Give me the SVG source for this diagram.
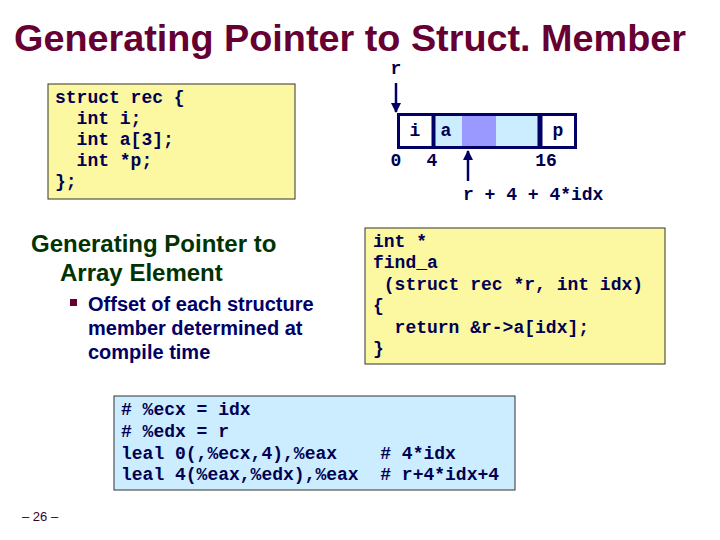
<svg xmlns="http://www.w3.org/2000/svg" width="720" height="540" viewBox="0 0 720 540">
<style>
.title{font-family:"Liberation Sans",Arial,sans-serif;font-weight:bold;font-size:36px;fill:#660033}
.sub{font-family:"Liberation Sans",Arial,sans-serif;font-weight:bold;font-size:24px;fill:#003300}
.bul{font-family:"Liberation Sans",Arial,sans-serif;font-weight:bold;font-size:20px;fill:#000066}
.code{font-family:"Liberation Mono","Courier New",monospace;font-weight:bold;font-size:18px;fill:#000050;white-space:pre}
.box{stroke:#333333;stroke-width:1}
.mem{stroke:#000066;fill:none}
.pg{font-family:"Liberation Sans",Arial,sans-serif;font-size:13px;fill:#330033}
</style>
<defs>
<marker id="ah" viewBox="0 0 10 10" refX="9" refY="5" markerWidth="4" markerHeight="4" orient="auto" markerUnits="strokeWidth">
<path d="M0,0 L10,5 L0,10 z" fill="#000066"/>
</marker>
</defs>
<rect width="720" height="540" fill="#ffffff"/>
<text class="title" x="14" y="51" textLength="672" lengthAdjust="spacingAndGlyphs">Generating Pointer to Struct. Member</text>

<g id="struct-box">
<rect class="box" x="48" y="84" width="247" height="115" fill="#FCF8A2"/>
<text class="code" x="55" y="103">struct rec {</text>
<text class="code" x="55" y="124">  int i;</text>
<text class="code" x="55" y="145">  int a[3];</text>
<text class="code" x="55" y="166">  int *p;</text>
<text class="code" x="55" y="187">};</text>
</g>

<g id="memory">
<rect x="398.5" y="114.5" width="177" height="33" fill="#ffffff"/>
<rect x="433.5" y="114.5" width="106.5" height="33" fill="#CCECFF"/>
<rect x="462" y="114.5" width="34" height="33" fill="#9999FF"/>
<rect class="mem" x="398.5" y="114.5" width="177" height="33" stroke-width="3"/>
<line class="mem" x1="433.5" y1="114" x2="433.5" y2="148" stroke-width="4"/>
<line class="mem" x1="540" y1="114" x2="540" y2="148" stroke-width="5"/>
<text class="code" x="415" y="136" text-anchor="middle">i</text>
<text class="code" x="446" y="136" text-anchor="middle">a</text>
<text class="code" x="558" y="136" text-anchor="middle">p</text>
<text class="code" x="396" y="166" text-anchor="middle">0</text>
<text class="code" x="432" y="166" text-anchor="middle">4</text>
<text class="code" x="546" y="166" text-anchor="middle">16</text>
<text class="code" x="396" y="74" text-anchor="middle">r</text>
<text class="code" x="463" y="200">r + 4 + 4*idx</text>
</g>

<g id="connectors">
<line x1="396" y1="83" x2="396" y2="112" stroke="#000066" stroke-width="2.5" marker-end="url(#ah)"/>
<line x1="468" y1="181" x2="468" y2="151" stroke="#000066" stroke-width="2.5" marker-end="url(#ah)"/>
</g>

<g id="subtitle">
<text class="sub" x="31" y="252">Generating Pointer to</text>
<text class="sub" x="60" y="281">Array Element</text>
<rect x="70" y="299" width="7" height="7" fill="#660033"/>
<text class="bul" x="88" y="311">Offset of each structure</text>
<text class="bul" x="88" y="335">member determined at</text>
<text class="bul" x="88" y="359">compile time</text>
</g>

<g id="find-a-box">
<rect class="box" x="365" y="228" width="300" height="136" fill="#FCF8A2"/>
<text class="code" x="373" y="247">int *</text>
<text class="code" x="373" y="268">find_a</text>
<text class="code" x="373" y="290"> (struct rec *r, int idx)</text>
<text class="code" x="373" y="311">{</text>
<text class="code" x="373" y="333">  return &amp;r-&gt;a[idx];</text>
<text class="code" x="373" y="354">}</text>
</g>

<g id="asm-box">
<rect class="box" x="114" y="396" width="401" height="94" fill="#CCECFF"/>
<text class="code" x="121" y="415"># %ecx = idx</text>
<text class="code" x="121" y="437"># %edx = r</text>
<text class="code" x="121" y="459">leal 0(,%ecx,4),%eax    # 4*idx</text>
<text class="code" x="121" y="480">leal 4(%eax,%edx),%eax  # r+4*idx+4</text>
</g>

<text class="pg" x="22" y="521">– 26 –</text>
</svg>
